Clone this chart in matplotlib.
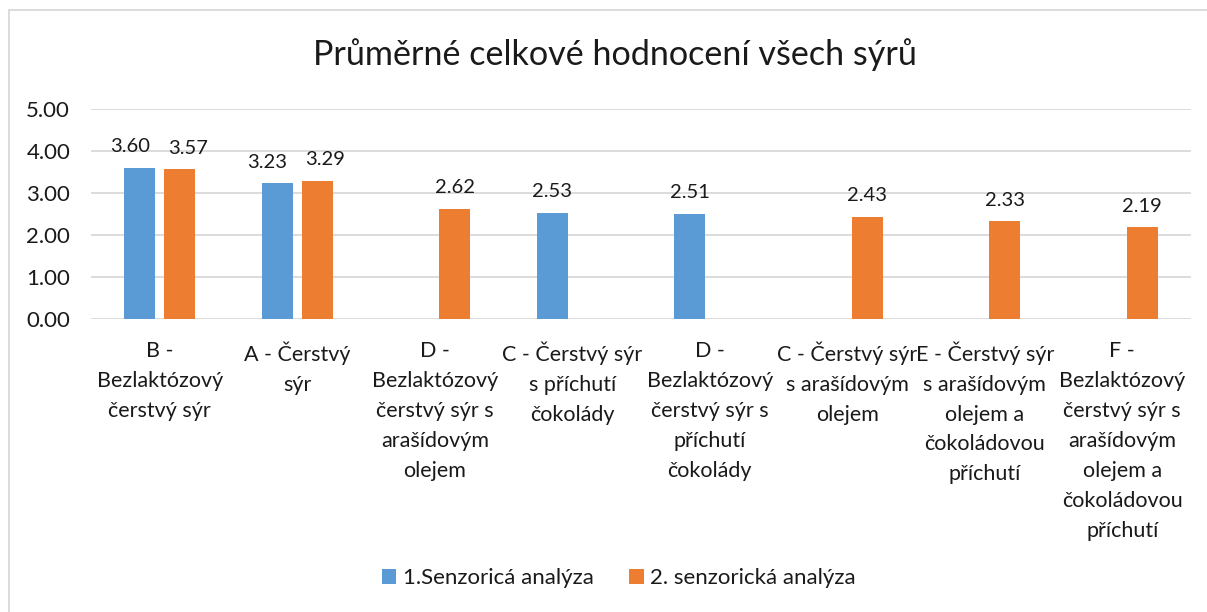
import numpy as np
import matplotlib.pyplot as plt
from matplotlib.patches import Rectangle

categories = [
    "B -\nBezlaktózový\nčerstvý sýr",
    "A - Čerstvý\nsýr",
    "D -\nBezlaktózový\nčerstvý sýr s\narašídovým\nolejem",
    "C - Čerstvý sýr\ns příchutí\nčokolády",
    "D -\nBezlaktózový\nčerstvý sýr s\npříchutí\nčokolády",
    "C - Čerstvý sýr\ns arašídovým\nolejem",
    "E - Čerstvý sýr\ns arašídovým\nolejem a\nčokoládovou\npříchutí",
    "F -\nBezlaktózový\nčerstvý sýr s\narašídovým\nolejem a\nčokoládovou\npříchutí",
]
first = [3.60, 3.23, np.nan, 2.53, 2.51, np.nan, np.nan, np.nan]
second = [3.57, 3.29, 2.62, np.nan, np.nan, 2.43, 2.33, 2.19]
series_names = ["1.Senzoricá analýza", "2. senzorická analýza"]
yticks = [0, 1, 2, 3, 4, 5]

plt.rcParams['font.family'] = ['Lato', 'DejaVu Sans']
text_color = '#1a1a1a'

fig = plt.figure(figsize=(12.07, 6.12), dpi=100)
fig.patches.append(Rectangle((9 / 1207, -0.01), 1.02, 1 - 10 / 612 + 0.01,
                             transform=fig.transFigure, fill=False,
                             edgecolor='#d9d9d9', linewidth=1.3))
ax = fig.add_axes([91 / 1207, 1 - 319 / 612, 1100 / 1207, 210 / 612])

x = np.arange(len(categories))
w = 0.225
off = 0.145
b1 = ax.bar(x - off, first, w, color='#5B9BD5', label=series_names[0], zorder=3)
b2 = ax.bar(x + off, second, w, color='#ED7D31', label=series_names[1], zorder=3)

# labels of paired bars are pushed apart a little, like in the original
paired = ~np.isnan(first) & ~np.isnan(second)
for bars, vals, shift in [(b1, first, -7), (b2, second, 6)]:
    for i, (rect, v) in enumerate(zip(bars, vals)):
        if np.isnan(v):
            continue
        dx = shift if paired[i] else 0
        ax.annotate(f"{v:.2f}", (rect.get_x() + rect.get_width() / 2, v),
                    xytext=(dx, 9), textcoords='offset points',
                    ha='center', va='bottom', fontsize=14.5, color=text_color)

ax.set_xlim(-0.5, len(categories) - 0.5)
ax.set_ylim(0, 5)
ax.set_yticks(yticks)
ax.set_yticklabels([f"{t:.2f}" for t in yticks])
ax.set_xticks(x)
ax.set_xticklabels(categories, linespacing=1.62)
ax.tick_params(axis='y', length=0, pad=15, labelsize=16, labelcolor=text_color)
ax.tick_params(axis='x', length=0, pad=16, labelsize=15.5, labelcolor=text_color)
ax.grid(axis='y', color='#d9d9d9', linewidth=1.3, zorder=0)
for s in ax.spines.values():
    s.set_visible(False)

fig.text(615 / 1207, 1 - 55 / 612, "Průměrné celkové hodnocení všech sýrů",
         ha='center', va='center', fontsize=24.6, color=text_color)

fig.legend(loc='center', bbox_to_anchor=(619 / 1207, 1 - 578 / 612), ncol=2,
           frameon=False, fontsize=16, handlelength=0.64, handleheight=0.64,
           handletextpad=0.3, columnspacing=1.6, labelcolor=text_color)

fig.savefig('out.png', dpi=100)
